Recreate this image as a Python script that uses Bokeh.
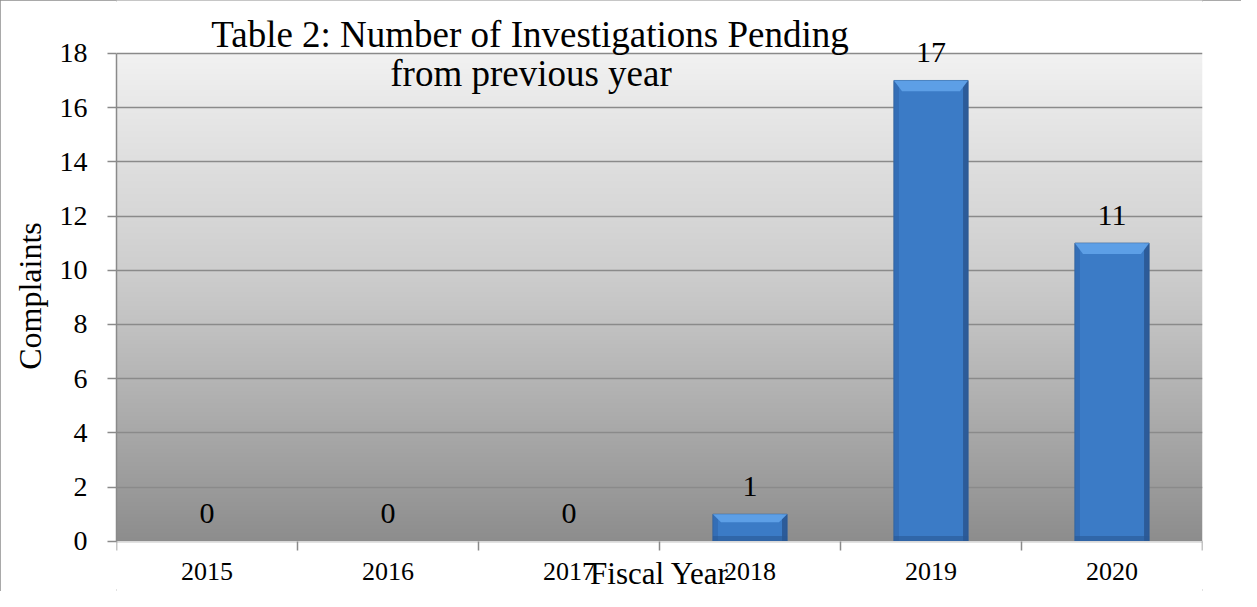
import numpy as np
from bokeh.plotting import figure
from bokeh.models import Range1d, FixedTicker, Label, LabelSet, ColumnDataSource
from bokeh.core.properties import value
from bokeh.embed import file_html
from bokeh.resources import INLINE

# ---------------- data ----------------
years = ["2015", "2016", "2017", "2018", "2019", "2020"]
pending = [0, 0, 0, 1, 17, 11]
y_ticks = [0, 2, 4, 6, 8, 10, 12, 14, 16, 18]

title_line1 = "Table 2:  Number of Investigations Pending"
title_line2 = "from previous year"
x_title = "Fiscal Year"
y_title = "Complaints"

# ---------------- style ----------------
FONT = "Liberation Serif"
GRID = "#8a8a8a"
bg_stop_vals = [0, 2, 4, 6, 8, 10, 12, 14, 16, 18]
bg_stop_gray = [141, 155, 168, 181, 194, 206, 215, 223, 232, 242]

n = len(years)
xc = [i + 0.5 for i in range(n)]
ymax = y_ticks[-1]
y_view_top = 19.95         # room above the axis for title / labels
y_view_bottom = -1.85      # room below the axis for year labels

p = figure(width=1241, height=591, title=None,
           x_range=Range1d(0, n), y_range=Range1d(y_view_bottom, y_view_top),
           output_backend="svg", toolbar_location=None,
           min_border_left=116, min_border_right=39,
           min_border_top=0, min_border_bottom=0)
p.background_fill_color = "white"
p.border_fill_color = "white"
p.outline_line_color = None
p.styles = {"outline": "2px solid #8c8c8c", "outline-offset": "-2px"}

# gradient background of the plot area (0..ymax only)
rows = 487
gy = np.linspace(0, ymax, rows)
g = np.interp(gy, bg_stop_vals, bg_stop_gray).astype(np.uint8)
img = np.empty((rows, 1), dtype=np.uint32)
view = img.view(dtype=np.uint8).reshape((rows, 1, 4))
view[:, 0, 0] = g
view[:, 0, 1] = g
view[:, 0, 2] = g
view[:, 0, 3] = 255
p.image_rgba(image=[img], x=0, y=0, dw=n, dh=ymax, level="image")

# grid
p.xgrid.visible = False
p.ygrid.ticker = FixedTicker(ticks=y_ticks)
p.ygrid.grid_line_color = GRID
p.ygrid.grid_line_width = 1.5

# bars
bw = 0.41
src = ColumnDataSource(dict(x=xc, value=pending, label=[str(v) for v in pending],
                            edge=[1.0 if v > 0 else 0.0 for v in pending]))
p.vbar(x="x", top="value", width=bw, source=src,
       fill_color="#3b7bc6", line_color="#3a669c", line_width=1,
       line_alpha="edge", fill_alpha="edge")

nz = [i for i, v in enumerate(pending) if v > 0]
sw = 0.028
left_x = [xc[i] - bw / 2 + sw / 2 for i in nz]
right_x = [xc[i] + bw / 2 - sw / 2 for i in nz]
tops = [pending[i] for i in nz]
p.vbar(x=left_x, top=tops, width=sw, fill_color="#2f65aa", fill_alpha=0.55, line_color=None)
p.vbar(x=right_x, top=tops, width=sw, fill_color="#274f86", fill_alpha=0.7, line_color=None)
bot_h = [min(0.2, t * 0.2) for t in tops]
p.vbar(x=[xc[i] for i in nz], top=bot_h, bottom=0, width=bw,
       fill_color="#2a5894", fill_alpha=0.6, line_color=None)

dx = 0.045
bev_xs, bev_ys = [], []
for i in nz:
    t = pending[i]
    dy = min(0.4, t * 0.3)
    l, r = xc[i] - bw / 2, xc[i] + bw / 2
    bev_xs.append([l, r, r - dx, l + dx])
    bev_ys.append([t, t, t - dy, t - dy])
p.patches(bev_xs, bev_ys, fill_color="#5d9fe6", line_color=None)

labels = LabelSet(x="x", y="value", text="label", source=src, y_offset=18,
                  text_align="center", text_baseline="alphabetic",
                  text_font=value(FONT), text_font_size="30px", text_color="black")
p.add_layout(labels)

# y axis
ya = p.yaxis[0]
ya.ticker = FixedTicker(ticks=y_ticks)
ya.bounds = (0, ymax)
ya.axis_line_color = GRID
ya.axis_line_width = 1.5
ya.major_tick_line_color = GRID
ya.major_tick_line_width = 1.5
ya.major_tick_out = 9
ya.major_tick_in = 0
ya.minor_tick_line_color = None
ya.major_label_standoff = 20
ya.major_label_text_font = FONT
ya.major_label_text_font_size = "28px"
ya.major_label_text_color = "black"
ya.axis_label = y_title
ya.axis_label_text_font = FONT
ya.axis_label_text_font_size = "32px"
ya.axis_label_text_font_style = "normal"
ya.axis_label_text_color = "black"
ya.axis_label_standoff = 9

# x axis, pinned at y = 0
xa = p.xaxis[0]
xa.fixed_location = 0
xa.ticker = FixedTicker(ticks=xc, minor_ticks=list(range(n + 1)))
xa.major_label_overrides = {c: yname for c, yname in zip(xc, years)}
xa.axis_line_color = "#d9d9d9"
xa.major_tick_line_color = None
xa.major_tick_out = 9
xa.major_tick_in = 0
xa.minor_tick_line_color = GRID
xa.minor_tick_line_width = 1.5
xa.minor_tick_out = 9
xa.minor_tick_in = 0
xa.major_label_standoff = 13
xa.major_label_text_font = FONT
xa.major_label_text_font_size = "26px"
xa.major_label_text_color = "black"
xa.axis_label = x_title
xa.axis_label_text_font = FONT
xa.axis_label_text_font_size = "31px"
xa.axis_label_text_font_style = "normal"
xa.axis_label_text_color = "black"
xa.axis_label_standoff = -28

# title (two lines, partly over the plot area)
t1 = Label(x=2.31, y=18.71, text=title_line1, text_align="center", text_baseline="alphabetic",
           text_font=FONT, text_font_size="37px", text_color="black")
t2 = Label(x=2.29, y=17.27, text=title_line2, text_align="center", text_baseline="alphabetic",
           text_font=FONT, text_font_size="37px", text_color="black")
p.add_layout(t1)
p.add_layout(t2)

open("out.html", "w").write(file_html(p, INLINE))
